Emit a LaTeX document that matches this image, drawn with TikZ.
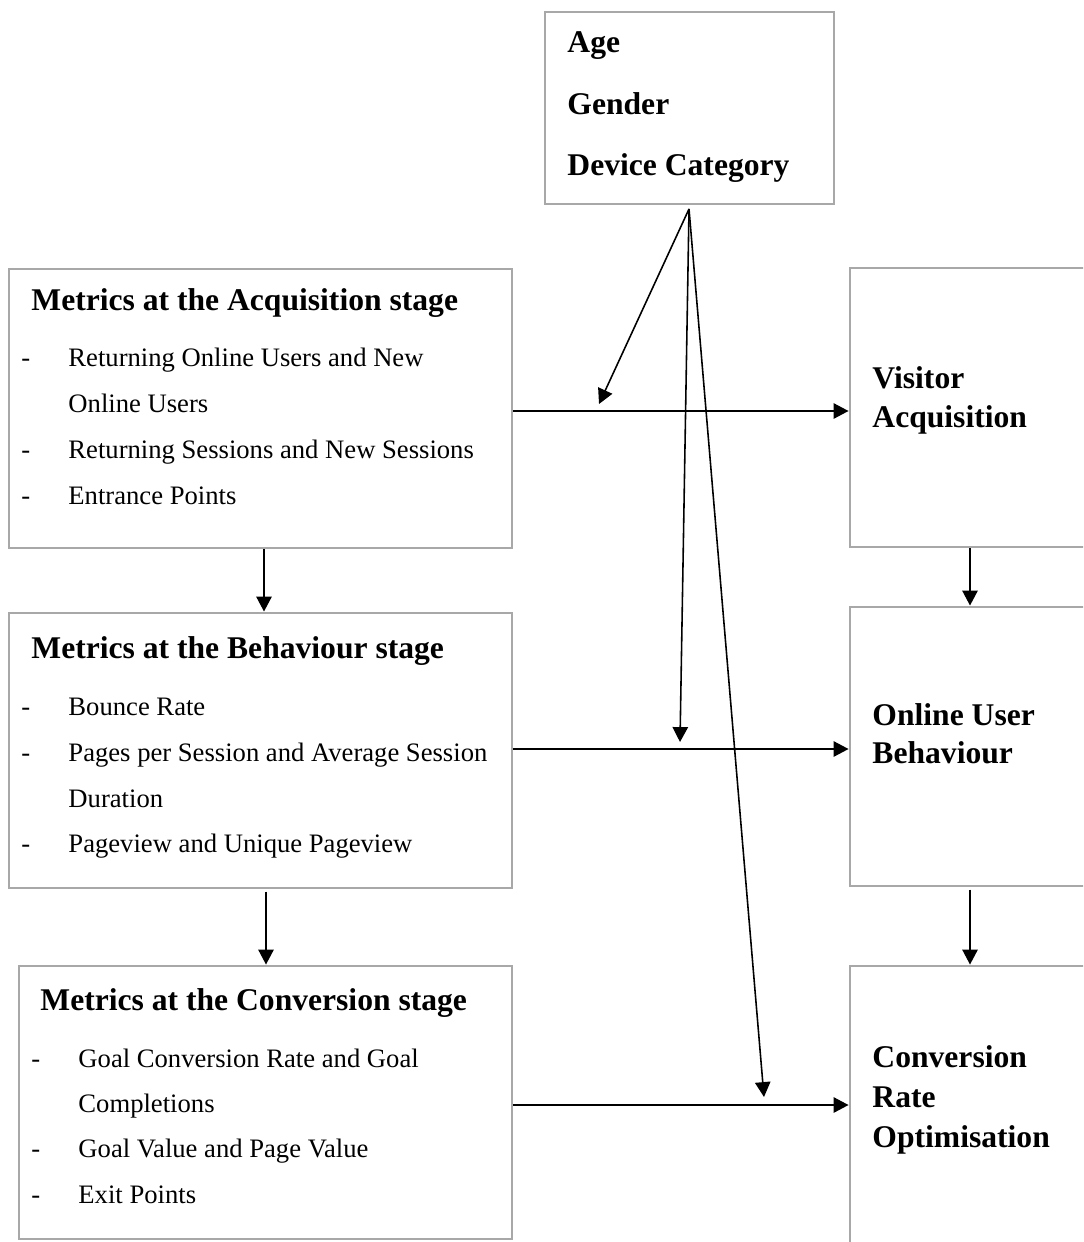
\documentclass[tikz,border=0pt]{standalone}
\usepackage{fontspec}
\setmainfont{Liberation Serif}
\usetikzlibrary{arrows.meta,fit}
\definecolor{boxgray}{HTML}{A8A8A8}
\begin{document}
\begin{tikzpicture}[x=0.443pt,y=-0.443pt,
  box/.style={draw=boxgray,line width=1.3pt,inner sep=0pt,rectangle},
  arr/.style={draw=black,line width=0.7pt,-{Triangle[length=6.6pt,width=6.8pt]}},
  head/.style={anchor=base west,inner sep=0pt,font=\fontsize{14}{17}\selectfont\bfseries},
  item/.style={anchor=base west,inner sep=0pt,font=\fontsize{11.8}{14}\selectfont},
]
\useasboundingbox (0,0) rectangle (1083,1242);
\fill[white] (0,0) rectangle (1083,1242);
\clip (0,0) rectangle (1083,1242);

% ---- boxes ----
\node[box,fit={(545,12)(834,204)}] (demo) {};
\node[box,fit={(9,269)(512,548)}] (acq) {};
\node[box,fit={(9,613)(512,888)}] (beh) {};
\node[box,fit={(19,966)(512,1239)}] (conv) {};
\node[box,fit={(850,268)(1100,547)}] (va) {};
\node[box,fit={(850,607)(1100,886)}] (oub) {};
\node[box,fit={(850,966)(1100,1270)}] (cro) {};

% ---- demographic dimensions ----
\node[head] (d1) at (567,53) {Age};
\node[head] (d2) at (567,115) {Gender};
\node[head] (d3) at (567,176) {Device Category};

% ---- acquisition metrics ----
\node[head] (at) at (31,310) {Metrics at the Acquisition stage};
\node[item] (ad1) at (21,366) {-};
\node[item] (a1) at (68,366) {Returning Online Users and New};
\node[item] (a1b) at (68,412) {Online Users};
\node[item] (ad2) at (21,458) {-};
\node[item] (a2) at (68,458) {Returning Sessions and New Sessions};
\node[item] (ad3) at (21,504) {-};
\node[item] (a3) at (68,504) {Entrance Points};

% ---- behaviour metrics ----
\node[head] (bt) at (31,658) {Metrics at the Behaviour stage};
\node[item] (bd1) at (21,715) {-};
\node[item] (b1) at (68,715) {Bounce Rate};
\node[item] (bd2) at (21,761) {-};
\node[item] (b2) at (68,761) {Pages per Session and Average Session};
\node[item] (b2b) at (68,807) {Duration};
\node[item] (bd3) at (21,852) {-};
\node[item] (b3) at (68,852) {Pageview and Unique Pageview};

% ---- conversion metrics ----
\node[head] (ct) at (40,1010) {Metrics at the Conversion stage};
\node[item] (cd1) at (31,1067) {-};
\node[item] (c1) at (78,1067) {Goal Conversion Rate and Goal};
\node[item] (c1b) at (78,1112) {Completions};
\node[item] (cd2) at (31,1157) {-};
\node[item] (c2) at (78,1157) {Goal Value and Page Value};
\node[item] (cd3) at (31,1203) {-};
\node[item] (c3) at (78,1203) {Exit Points};

% ---- outcome stages ----
\node[head] (v1) at (872,388) {Visitor};
\node[head] (v2) at (872,427) {Acquisition};
\node[head] (o1) at (872,725) {Online User};
\node[head] (o2) at (872,763) {Behaviour};
\node[head] (r1) at (872,1067) {Conversion};
\node[head] (r2) at (872,1107) {Rate};
\node[head] (r3) at (872,1147) {Optimisation};

% ---- connector levels ----
\coordinate (h1) at (0,411);
\coordinate (h2) at (0,749);
\coordinate (h3) at (0,1105);
\coordinate (vl1) at (264,0);
\coordinate (vl2) at (266,0);
\coordinate (vr) at (970,0);
\coordinate (src) at (689,209);
\coordinate (t1) at (599,404);
\coordinate (t2) at (680,742);
\coordinate (t3) at (764,1097);

% ---- horizontal flows ----
\draw[arr] (acq.east|-h1) -- (va.west|-h1);
\draw[arr] (beh.east|-h2) -- (oub.west|-h2);
\draw[arr] (conv.east|-h3) -- (cro.west|-h3);

% ---- vertical flows ----
\draw[arr] (acq.south-|vl1) -- (beh.north-|vl1);
\draw[arr] ([yshift=-1pt]beh.south-|vl2) -- (conv.north-|vl2);
\draw[arr] (va.south-|vr) -- (oub.north-|vr);
\draw[arr] ([yshift=-1pt]oub.south-|vr) -- (cro.north-|vr);

% ---- demographic influence ----
\draw[arr] (src) -- (t1);
\draw[arr] (src) -- (t2);
\draw[arr] (src) -- (t3);
\end{tikzpicture}
\end{document}
